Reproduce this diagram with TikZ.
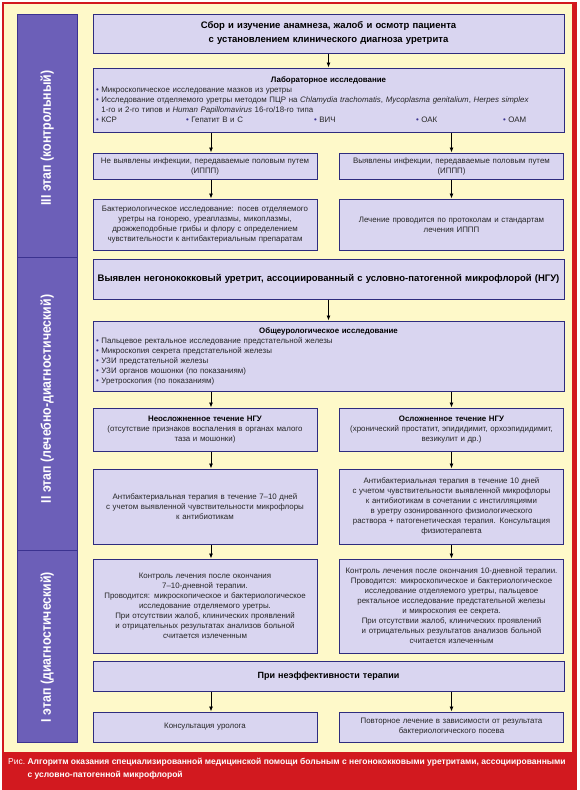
\documentclass[tikz,border=0pt]{standalone}
\usepackage{fontspec}
\setmainfont{Liberation Sans}
\newfontfamily\condsans{Liberation Sans}[FakeStretch=0.88]
\usetikzlibrary{arrows.meta}

\definecolor{bgyellow}{HTML}{FEF9C9}
\definecolor{framered}{HTML}{D2191F}
\definecolor{boxfill}{HTML}{D9D5F0}
\definecolor{boxline}{HTML}{2E2C7E}
\definecolor{stagefill}{HTML}{6C5FB8}
\definecolor{stageline}{HTML}{3B3290}
\definecolor{bodytext}{HTML}{262626}

\newcommand{\itm}{{\color{stageline}\textbullet}~}

\tikzset{
    box/.style={draw=boxline, fill=boxfill, line width=1pt, inner sep=3pt,
        align=center, text=bodytext, font=\fontsize{7.9}{10}\selectfont},
    lbox/.style={box, text width=218},
    wbox/.style={box, text width=465},
    bighead/.style={font=\fontsize{9.5}{14}\selectfont\bfseries, text=black},
    stagelabel/.style={text=white, font=\condsans\fontsize{14}{16}\selectfont\bfseries},
    arr/.style={-{Latex[length=5pt, width=4pt]}, line width=0.8pt, black}
}

\begin{document}
\begin{tikzpicture}[x=1pt, y=-1pt]
    \useasboundingbox (0,0) rectangle (580,790);

    % Background frame and caption band
    \fill[white] (0,0) rectangle (580,790);
    \fill[framered] (2,2) rectangle (577,790);
    \fill[bgyellow] (4,4) rectangle (572,752);

    % Stage bar on the left
    \filldraw[fill=stagefill, draw=stageline, line width=1pt] (17,14) rectangle (77,742);
    \draw[stageline, line width=1pt] (17,257) -- (77,257);
    \draw[stageline, line width=1pt] (17,550) -- (77,550);
    \node[stagelabel, rotate=90] (stIII) at (47,138) {III этап (контрольный)};
    \node[stagelabel, rotate=90] (stII) at (47,399) {II этап (лечебно-диагностический)};
    \node[stagelabel, rotate=90] (stI) at (47,647) {I этап (диагностический)};

    % Columns of the arrows
    \coordinate (lcol) at (211,0);
    \coordinate (rcol) at (451.5,0);

    % Stage III
    \node[wbox, bighead, minimum height=39] (head) at (328.5,33.5)
        {Сбор и изучение анамнеза, жалоб и осмотр пациента\\с установлением клинического диагноза уретрита};
    \node[wbox, align=left, minimum height=64] (lab) at (328.5,100)
        {\centerline{\bfseries\color{black}Лабораторное исследование}
         \itm Микроскопическое исследование мазков из уретры\\
         \itm Исследование отделяемого уретры методом ПЦР на \textit{Chlamydia trachomatis}, \textit{Mycoplasma genitalium}, \textit{Herpes simplex}\\
         \phantom{\itm}1-го и 2-го типов и \textit{Human Papillomavirus} 16-го/18-го типа\\
         \makebox[90pt][l]{\itm КСР}\makebox[128pt][l]{\itm Гепатит В и С}\makebox[102pt][l]{\itm ВИЧ}\makebox[87pt][l]{\itm ОАК}\itm ОАМ};
    \node[lbox, minimum height=26] (noinf) at (205,166)
        {Не выявлены инфекции, передаваемые половым путем\\(ИППП)};
    \node[lbox, minimum height=26] (inf) at (451.5,166)
        {Выявлены инфекции, передаваемые половым путем\\(ИППП)};
    \node[lbox, minimum height=51] (bact) at (205,224.5)
        {Бактериологическое исследование: посев отделяемого\\уретры на гонорею, уреаплазмы, микоплазмы,\\дрожжеподобные грибы и флору с определением\\чувствительности к антибактериальным препаратам};
    \node[lbox, minimum height=51] (protocol) at (451.5,224.5)
        {Лечение проводится по протоколам и стандартам\\лечения ИППП};

    % Stage II
    \node[wbox, minimum height=40, font=\fontsize{9.5}{12}\selectfont\bfseries, text=black] (ngu) at (328.5,279)
        {Выявлен негонококковый уретрит, ассоциированный с условно-патогенной микрофлорой (НГУ)};
    \node[wbox, align=left, minimum height=70] (urol) at (328.5,356)
        {\centerline{\bfseries\color{black}Общеурологическое исследование}
         \itm Пальцевое ректальное исследование предстательной железы\\
         \itm Микроскопия секрета предстательной железы\\
         \itm УЗИ предстательной железы\\
         \itm УЗИ органов мошонки (по показаниям)\\
         \itm Уретроскопия (по показаниям)};
    \node[lbox, minimum height=43] (uncompl) at (205,429.5)
        {{\bfseries\color{black}Неосложненное течение НГУ}\\(отсутствие признаков воспаления в органах малого\\таза и мошонки)};
    \node[lbox, minimum height=43] (compl) at (451.5,429.5)
        {{\bfseries\color{black}Осложненное течение НГУ}\\(хронический простатит, эпидидимит, орхоэпидидимит,\\везикулит и др.)};
    \node[lbox, minimum height=75] (abtA) at (205,506.5)
        {Антибактериальная терапия в течение 7–10 дней\\с учетом выявленной чувствительности микрофлоры\\к антибиотикам};
    \node[lbox, minimum height=75] (abtB) at (451.5,506.5)
        {Антибактериальная терапия в течение 10 дней\\с учетом чувствительности выявленной микрофлоры\\к антибиотикам в сочетании с инстилляциями\\в уретру озонированного физиологического\\раствора + патогенетическая терапия. Консультация\\физиотерапевта};

    % Stage I
    \node[lbox, minimum height=94] (ctrlA) at (205,606)
        {Контроль лечения после окончания\\7–10-дневной терапии.\\Проводится: микроскопическое и бактериологическое\\исследование отделяемого уретры.\\При отсутствии жалоб, клинических проявлений\\и отрицательных результатах анализов больной\\считается излеченным};
    \node[lbox, minimum height=94] (ctrlB) at (451.5,606)
        {Контроль лечения после окончания 10-дневной терапии.\\Проводится: микроскопическое и бактериологическое\\исследование отделяемого уретры, пальцевое\\ректальное исследование предстательной железы\\и микроскопия ее секрета.\\При отсутствии жалоб, клинических проявлений\\и отрицательных результатов анализов больной\\считается излеченным};
    \node[wbox, minimum height=30, font=\fontsize{9}{11}\selectfont\bfseries, text=black] (fail) at (328.5,676)
        {При неэффективности терапии};
    \node[lbox, minimum height=30] (consult) at (205,727)
        {Консультация уролога};
    \node[lbox, minimum height=30] (retreat) at (451.5,727)
        {Повторное лечение в зависимости от результата\\бактериологического посева};

    % Arrows
    \draw[arr] (head) -- (lab);
    \draw[arr] (lab.south -| lcol) -- (noinf.north -| lcol);
    \draw[arr] (lab.south -| rcol) -- (inf.north -| rcol);
    \draw[arr] (noinf.south -| lcol) -- (bact.north -| lcol);
    \draw[arr] (inf) -- (protocol);
    \draw[arr] (ngu) -- (urol);
    \draw[arr] (urol.south -| lcol) -- (uncompl.north -| lcol);
    \draw[arr] (urol.south -| rcol) -- (compl.north -| rcol);
    \draw[arr] (uncompl.south -| lcol) -- (abtA.north -| lcol);
    \draw[arr] (compl) -- (abtB);
    \draw[arr] (abtA.south -| lcol) -- (ctrlA.north -| lcol);
    \draw[arr] (abtB) -- (ctrlB);
    \draw[arr] (fail.south -| lcol) -- (consult.north -| lcol);
    \draw[arr] (fail.south -| rcol) -- (retreat.north -| rcol);

    % Caption
    \node[anchor=north west, text=white, font=\fontsize{8.5}{12.5}\selectfont, inner sep=0pt] (caption) at (8,758)
        {Рис.~\parbox[t]{555pt}{\bfseries Алгоритм оказания специализированной медицинской помощи больным с негонококковыми уретритами, ассоциированными\\с условно-патогенной микрофлорой}};

\end{tikzpicture}
\end{document}
